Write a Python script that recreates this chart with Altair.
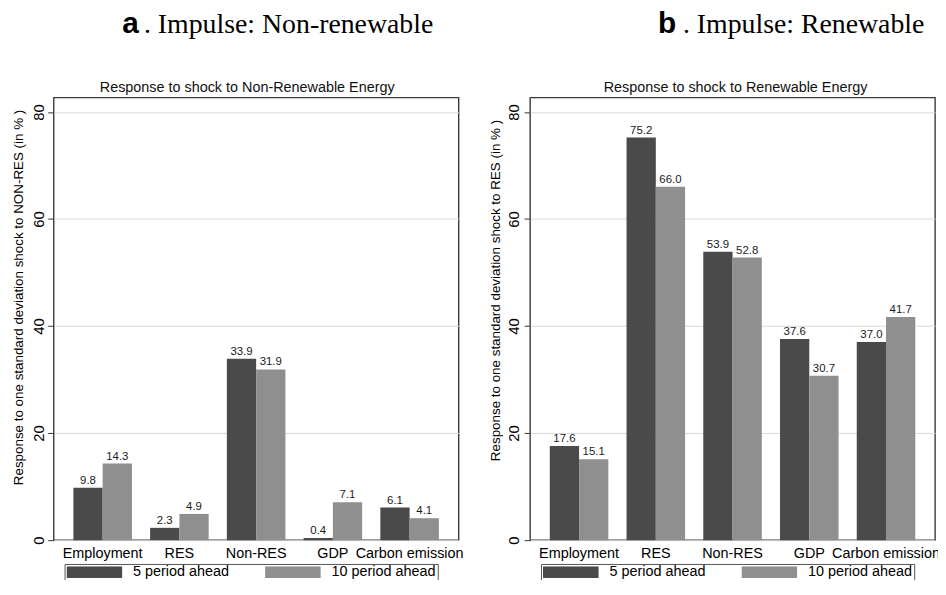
import altair as alt
import pandas as pd

categories = ["Employment", "RES", "Non-RES", "GDP", "Carbon emission"]
periods = ["5 period ahead", "10 period ahead"]
nonres_5 = [9.8, 2.3, 33.9, 0.4, 6.1]
nonres_10 = [14.3, 4.9, 31.9, 7.1, 4.1]
res_5 = [17.6, 75.2, 53.9, 37.6, 37.0]
res_10 = [15.1, 66.0, 52.8, 30.7, 41.7]
y_ticks = [0, 20, 40, 60, 80]
bar_colors = ["#4a4a4a", "#8f8f8f"]

SANS = "Liberation Sans"
SERIF = "Liberation Serif"
W, H = 408, 446


def make_df(v5, v10):
    rows = []
    for c, a, b in zip(categories, v5, v10):
        rows.append({"cat": c, "period": periods[0], "value": a})
        rows.append({"cat": c, "period": periods[1], "value": b})
    return pd.DataFrame(rows)


def panel(df, letter, heading, subtitle, ytitle, letter_x, heading_x, sub_x,
          title_y, legend_x, label_pad):
    base = alt.Chart(df)
    x = alt.X("cat:N", sort=categories, title=None,
              scale=alt.Scale(paddingInner=0.237, paddingOuter=0.257),
              axis=alt.Axis(labelAngle=0, ticks=False, domain=False, grid=False,
                            labelFont=SANS, labelFontSize=14.5, labelColor="#000",
                            labelPadding=6))
    xo = alt.XOffset("period:N", sort=periods,
                     scale=alt.Scale(paddingInner=0, paddingOuter=0))
    y = alt.Y("value:Q", title=ytitle,
              scale=alt.Scale(domain=[0, 82.7], nice=False, zero=True),
              axis=alt.Axis(values=y_ticks, grid=True, gridColor="#d9d9d9",
                            gridWidth=1, domain=False, ticks=True, tickSize=6,
                            tickColor="#333", tickWidth=1, labelAngle=270,
                            labelAlign="center", labelBaseline="alphabetic",
                            labelPadding=label_pad, labelFont=SANS, labelFontSize=15,
                            labelColor="#000", titleFont=SANS, titleFontSize=13.5,
                            titleFontWeight="normal", titleColor="#000",
                            titleAngle=270, titleX=-35, titleY=title_y,
                            titleAlign="center", titleBaseline="middle"))
    color = alt.Color("period:N", sort=periods,
                      scale=alt.Scale(domain=periods, range=bar_colors),
                      legend=alt.Legend(title=None, orient="none", legendX=legend_x,
                                        legendY=470, direction="horizontal",
                                        columns=2,
                                        symbolType="M-1,-0.2143H1V0.2143H-1Z",
                                        symbolSize=3136, symbolStrokeWidth=0,
                                        symbolOpacity=1, clipHeight=12,
                                        labelFont=SANS, labelFontSize=14.5,
                                        labelColor="#000", labelOffset=11,
                                        columnPadding=36, padding=2,
                                        strokeColor="#555", fillColor="white"))
    bars = base.mark_bar(opacity=1).encode(x=x, xOffset=xo, y=y, color=color)
    labels = base.mark_text(font=SANS, fontSize=11.5, color="#1a1a1a",
                            baseline="alphabetic", dy=-4).encode(
        x=x, xOffset=xo, y=y, text=alt.Text("value:Q", format=".1f"))
    h_letter = alt.Chart(pd.DataFrame({"t": [letter]})).mark_text(
        font=SANS, fontWeight="bold", fontSize=30, align="left",
        baseline="alphabetic", color="#000").encode(
        x=alt.value(letter_x), y=alt.value(-65), text="t:N")
    h_text = alt.Chart(pd.DataFrame({"t": [heading]})).mark_text(
        font=SERIF, fontSize=28, align="left", baseline="alphabetic",
        color="#000").encode(x=alt.value(heading_x), y=alt.value(-65), text="t:N")
    sub = alt.Chart(pd.DataFrame({"t": [subtitle]})).mark_text(
        font=SANS, fontSize=14.5, align="center", baseline="alphabetic",
        color="#111").encode(x=alt.value(sub_x), y=alt.value(-6), text="t:N")
    return alt.layer(bars, labels, h_letter, h_text, sub).properties(width=W, height=H)


left = panel(make_df(nonres_5, nonres_10), "a", ". Impulse: Non-renewable",
             "Response to shock to Non-Renewable Energy",
             "Response to one standard deviation shock to NON-RES (in % )",
             69, 91, 195, 201, 11, 4)
right = panel(make_df(res_5, res_10), "b", ". Impulse: Renewable",
              "Response to shock to Renewable Energy",
              "Response to one standard deviation shock to RES (in % )",
              129, 154, 207, 194, 11, 6)

chart = alt.hconcat(left, right, spacing=72, bounds="flush").resolve_legend(
    color="independent").configure_view(stroke="#3a3a3a", strokeWidth=1.4).properties(
    padding={"left": 3, "top": -2, "right": -3, "bottom": -5}, background="white")

chart.save("out.html", embed_options={"renderer": "svg", "actions": False})
